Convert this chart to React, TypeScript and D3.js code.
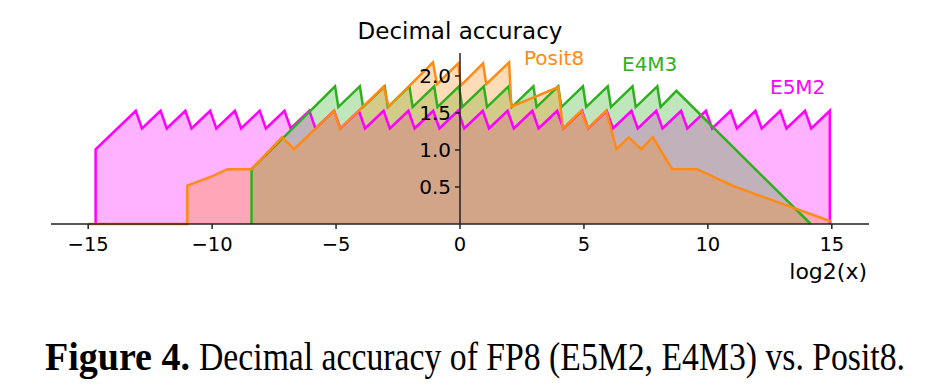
import React from "react";
import * as d3 from "d3";

const E5M2_X = [-14.7, -14.7, -13.08, -12.83, -12.08, -11.83, -11.08, -10.83, -10.08, -9.83, -9.08, -8.83, -8.08, -7.83, -7.08, -6.83, -6.08, -5.83, -5.08, -4.83, -4.08, -3.83, -3.08, -2.83, -2.08, -1.83, -1.08, -0.83, -0.08, 0.17, 0.92, 1.17, 1.92, 2.17, 2.92, 3.17, 3.92, 4.17, 4.92, 5.17, 5.92, 6.17, 6.92, 7.17, 7.92, 8.17, 8.92, 9.17, 9.92, 10.17, 10.92, 11.17, 11.92, 12.17, 12.92, 13.17, 13.92, 14.17, 14.92, 14.92];
const E5M2_Y = [0, 1.01, 1.53, 1.29, 1.53, 1.29, 1.53, 1.29, 1.53, 1.29, 1.53, 1.29, 1.53, 1.29, 1.53, 1.29, 1.53, 1.29, 1.53, 1.29, 1.53, 1.29, 1.53, 1.29, 1.53, 1.29, 1.53, 1.29, 1.53, 1.29, 1.53, 1.29, 1.53, 1.29, 1.53, 1.29, 1.53, 1.29, 1.53, 1.29, 1.53, 1.29, 1.53, 1.29, 1.53, 1.29, 1.53, 1.29, 1.53, 1.29, 1.53, 1.29, 1.53, 1.29, 1.53, 1.29, 1.53, 1.29, 1.53, 0];

const E4M3_X = [-8.41, -8.41, -5.04, -4.91, -4.04, -3.91, -3.04, -2.91, -2.04, -1.91, -1.04, -0.91, -0.04, 0.09, 0.96, 1.09, 1.96, 2.09, 2.96, 3.09, 3.96, 4.09, 4.96, 5.09, 5.96, 6.09, 6.96, 7.09, 7.96, 8.09, 8.73, 14.15];
const E4M3_Y = [0, 0.74, 1.86, 1.58, 1.86, 1.58, 1.86, 1.58, 1.86, 1.58, 1.86, 1.58, 1.86, 1.58, 1.86, 1.58, 1.86, 1.58, 1.86, 1.58, 1.86, 1.58, 1.86, 1.58, 1.86, 1.58, 1.86, 1.58, 1.86, 1.58, 1.8, 0];

const POSIT8_X = [-15, -11.0, -11.0, -9.96, -9.39, -8.41, -7.18, -6.69, -5.08, -4.85, -3.08, -2.88, -1.09, -0.93, -0.07, 0.03, 0.93, 1.06, 1.98, 2.07, 3.97, 4.15, 4.89, 5.16, 5.9, 6.31, 6.81, 7.31, 7.78, 8.56, 9.56, 11.08, 15.0];
const POSIT8_Y = [0, 0, 0.52, 0.65, 0.74, 0.74, 1.17, 1.01, 1.53, 1.285, 1.855, 1.585, 2.185, 1.89, 2.17, 1.87, 2.17, 1.89, 2.185, 1.585, 1.85, 1.29, 1.53, 1.29, 1.53, 1.01, 1.17, 1.01, 1.17, 0.74, 0.74, 0.505, 0.03];

const X_TICKS = [-15, -10, -5, 0, 5, 10, 15];
const Y_TICKS = [0.5, 1.0, 1.5, 2.0];

const SERIES = [
  { name: "E5M2", xs: E5M2_X, ys: E5M2_Y, color: "#ff00ff" },
  { name: "E4M3", xs: E4M3_X, ys: E4M3_Y, color: "#2eb01e" },
  { name: "Posit8", xs: POSIT8_X, ys: POSIT8_Y, color: "#ff8a14" },
];

export default function App() {
  const x = d3.scaleLinear().domain([-16.5, 16.5]).range([51, 869]);
  const y = d3.scaleLinear().domain([0, 2.31]).range([224, 53]);
  const sans = "'DejaVu Sans', sans-serif";
  const serif = "'Liberation Serif', serif";

  const area = d3
    .area<[number, number]>()
    .x((d) => x(d[0]))
    .y0(y(0))
    .y1((d) => y(d[1]));
  const line = d3
    .line<[number, number]>()
    .x((d) => x(d[0]))
    .y((d) => y(d[1]));

  const data = SERIES.map((s) => ({
    ...s,
    pts: s.xs.map((v, i) => [v, s.ys[i]] as [number, number]),
  }));

  return (
    <svg
      width={937}
      height={392}
      style={{ position: "absolute", left: 0, top: 0, background: "#fff" }}
    >
      <rect x={0} y={0} width={937} height={392} fill="#fff" />
      {data.map((s) => (
        <path key={"a" + s.name} d={area(s.pts) || ""} fill={s.color} fillOpacity={0.3} stroke="none" />
      ))}
      {data.map((s) => (
        <path key={"l" + s.name} d={line(s.pts) || ""} fill="none" stroke={s.color} strokeWidth={2.5} />
      ))}
      {/* x axis */}
      <line x1={x(-16.5)} x2={x(16.5)} y1={y(0)} y2={y(0)} stroke="#222" strokeWidth={1.5} />
      {X_TICKS.map((t) => (
        <g key={t}>
          <line x1={x(t)} x2={x(t)} y1={y(0)} y2={y(0) + 5} stroke="#222" strokeWidth={1.5} />
          <text x={x(t)} y={251} textAnchor="middle" fontFamily={sans} fontSize={19.5} fill="#000">
            {t < 0 ? "\u2212" + Math.abs(t) : String(t)}
          </text>
        </g>
      ))}
      {/* y axis */}
      <line x1={x(0)} x2={x(0)} y1={y(0)} y2={y(2.31)} stroke="#222" strokeWidth={1.5} />
      {Y_TICKS.map((t) => (
        <g key={t}>
          <line x1={x(0) - 5} x2={x(0)} y1={y(t)} y2={y(t)} stroke="#222" strokeWidth={1.5} />
          <text x={x(0) - 9} y={y(t) + 7.3} textAnchor="end" fontFamily={sans} fontSize={20} fill="#000">
            {t.toFixed(1)}
          </text>
        </g>
      ))}
      <text x={460} y={39} textAnchor="middle" fontFamily={sans} fontSize={23} fill="#000">
        Decimal accuracy
      </text>
      <text x={867} y={279} textAnchor="end" fontFamily={sans} fontSize={22} fill="#000">
        log2(x)
      </text>
      <text x={524} y={65} fontFamily={sans} fontSize={20} fill="#ff8a14">Posit8</text>
      <text x={622} y={71} fontFamily={sans} fontSize={20} fill="#2eb01e">E4M3</text>
      <text x={770} y={94} fontFamily={sans} fontSize={20} fill="#ff00ff">E5M2</text>
      <g transform="translate(45,370) scale(1,1.18)">
        <text
          x={0}
          y={0}
          fontFamily={serif}
          fontWeight="bold"
          fontSize={34}
          fill="#000"
          textLength={145}
          lengthAdjust="spacingAndGlyphs"
        >
          Figure 4.
        </text>
      </g>
      <g transform="translate(199,370) scale(1,1.18)">
        <text
          x={0}
          y={0}
          fontFamily={serif}
          fontSize={34}
          fill="#000"
          textLength={706}
          lengthAdjust="spacingAndGlyphs"
        >
          Decimal accuracy of FP8 (E5M2, E4M3) vs. Posit8.
        </text>
      </g>
    </svg>
  );
}
